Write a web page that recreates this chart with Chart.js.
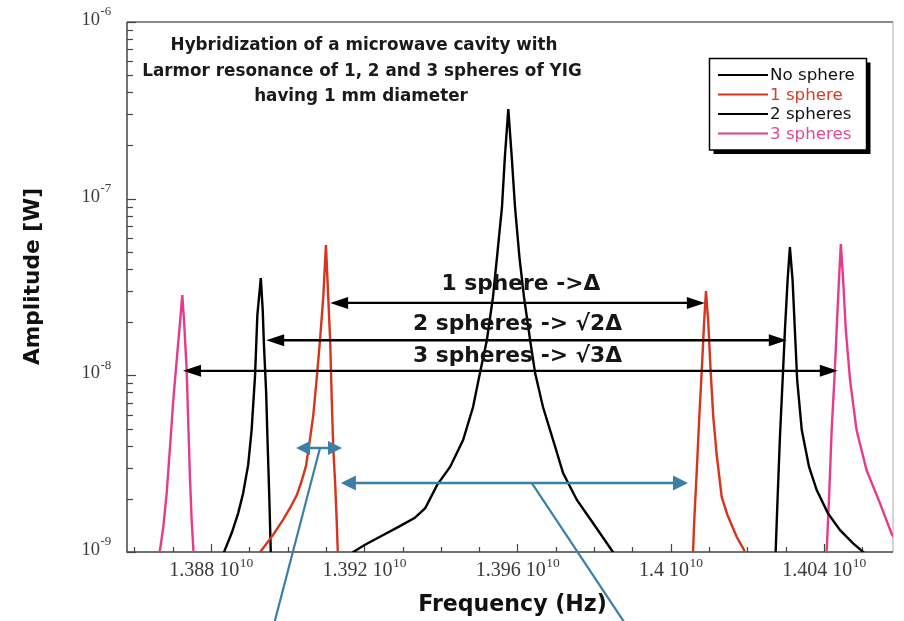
<!DOCTYPE html>
<html><head><meta charset="utf-8">
<script src="https://cdn.jsdelivr.net/npm/chart.js@4/dist/chart.umd.min.js"></script>
<style>html,body{margin:0;padding:0;background:#fff}canvas{display:block}</style>
</head><body>
<canvas id="c" width="904" height="621" style="width:904px;height:621px"></canvas>
<script>
// ---------- DATA (frequency in Hz, amplitude in W) ----------
const noSphereFreq = [13916.3e6,13917.1e6,13920.2e6,13924.1e6,13929.3e6,13933.2e6,13935.9e6,13939.0e6,13942.4e6,13945.8e6,13948.4e6,13950.2e6,13952.0e6,13953.6e6,13954.65e6,13955.95e6,13956.7e6,13957.6e6,13958.5e6,13959.35e6,13960.5e6,13961.7e6,13963.3e6,13964.6e6,13966.65e6,13969.3e6,13971.9e6,13975.5e6,13979.7e6,13984.9e6,13986.2e6];
const noSphereAmp  = [9.25e-10,1.0e-9,1.10e-9,1.22e-9,1.40e-9,1.56e-9,1.77e-9,2.39e-9,3.03e-9,4.30e-9,6.62e-9,1.03e-8,1.58e-8,2.77e-8,4.67e-8,8.97e-8,1.72e-7,3.21e-7,1.72e-7,8.97e-8,4.67e-8,2.77e-8,1.58e-8,1.03e-8,6.62e-9,4.30e-9,2.80e-9,1.97e-9,1.46e-9,1.0e-9,9.0e-10];

const oneSphereLowFreq  = [13891.5e6,13893.3e6,13896.2e6,13898.8e6,13900.6e6,13902.4e6,13903.75e6,13904.8e6,13905.8e6,13906.7e6,13907.6e6,13908.45e6,13909.3e6,13910.0e6,13910.6e6,13911.1e6,13911.5e6,13911.9e6,13912.4e6,13912.8e6,13913.1e6,13913.15e6];
const oneSphereLowAmp   = [9.25e-10,1.03e-9,1.25e-9,1.52e-9,1.77e-9,2.10e-9,2.56e-9,3.07e-9,4.30e-9,5.96e-9,9.65e-9,1.58e-8,2.77e-8,5.46e-8,2.77e-8,1.58e-8,7.54e-9,3.93e-9,2.46e-9,1.52e-9,1.0e-9,9.0e-10];
const oneSphereHighFreq = [14005.75e6,14006.1e6,14006.8e6,14007.45e6,14008.1e6,14008.7e6,14009.2e6,14009.8e6,14010.4e6,14011.1e6,14012.0e6,14013.3e6,14014.8e6,14017.2e6,14019.1e6,14019.9e6];
const oneSphereHighAmp  = [9.0e-10,1.46e-9,2.91e-9,5.81e-9,1.07e-8,1.98e-8,3.00e-8,1.98e-8,1.07e-8,5.81e-9,3.54e-9,2.05e-9,1.62e-9,1.22e-9,1.03e-9,9.25e-10];

const twoSpheresLowFreq  = [13882.9e6,13883.4e6,13885.4e6,13887.1e6,13888.4e6,13889.7e6,13890.6e6,13891.5e6,13892.1e6,13893.0e6,13893.5e6,13893.8e6,13894.4e6,13894.75e6,13895.2e6,13895.6e6,13895.7e6];
const twoSpheresLowAmp   = [9.0e-10,1.0e-9,1.28e-9,1.66e-9,2.16e-9,3.11e-9,4.90e-9,1.00e-8,2.19e-8,3.55e-8,2.34e-8,1.52e-8,7.94e-9,4.30e-9,2.10e-9,1.0e-9,9.0e-10];
const twoSpheresHighFreq = [14027.3e6,14027.9e6,14028.5e6,14029.2e6,14029.8e6,14030.5e6,14031.1e6,14031.8e6,14032.4e6,14033.0e6,14034.2e6,14036.1e6,14038.1e6,14041.0e6,14044.2e6,14047.6e6,14050.25e6,14051.5e6];
const twoSpheresHighAmp  = [9.0e-10,2.05e-9,4.48e-9,9.41e-9,1.80e-8,3.46e-8,5.32e-8,3.46e-8,1.80e-8,9.41e-9,4.90e-9,3.03e-9,2.24e-9,1.66e-9,1.33e-9,1.12e-9,1.0e-9,9.25e-10];

const threeSpheresLowFreq  = [13865.9e6,13866.7e6,13867.55e6,13868.44e6,13869.3e6,13870.16e6,13871.05e6,13871.9e6,13872.5e6,13873.0e6,13873.65e6,13874.1e6,13874.5e6,13874.95e6,13875.4e6,13875.6e6];
const threeSpheresLowAmp   = [9.2e-10,1.03e-9,1.385e-9,2.16e-9,3.93e-9,7.25e-9,1.22e-8,1.98e-8,2.85e-8,1.98e-8,1.07e-8,5.10e-9,2.66e-9,1.52e-9,1.03e-9,9.2e-10];
const threeSpheresHighFreq = [14040.6e6,14041.4e6,14042.0e6,14042.7e6,14043.3e6,14043.9e6,14044.4e6,14045.0e6,14045.7e6,14046.8e6,14048.5e6,14051.1e6,14054.6e6,14057.7e6,14059.8e6];
const threeSpheresHighAmp  = [9.0e-10,2.24e-9,4.90e-9,9.41e-9,1.80e-8,3.46e-8,5.53e-8,3.46e-8,1.80e-8,9.41e-9,4.90e-9,2.91e-9,1.89e-9,1.26e-9,1.10e-9];

const seriesLabels = ['No sphere','1 sphere','2 spheres','3 spheres'];

// axis ticks
const xMajorTicks = [1.388e10,1.392e10,1.396e10,1.400e10,1.404e10];
const xMajorMantissa = ['1.388','1.392','1.396','1.4','1.404'];
const xTickExponent = '10';
const yMajorTicks = [1e-9,1e-8,1e-7,1e-6];
const yTickExponents = ['-9','-8','-7','-6'];

// annotations (data coordinates)
const deltaArrowFrom = [13911.1e6,13894.4e6,13872.7e6];
const deltaArrowTo   = [14008.9e6,14030.3e6,14043.6e6];
const deltaArrowAmp  = [2.57e-8,1.58e-8,1.06e-8];
const deltaLabels    = ['1 sphere ->\u0394','2 spheres -> \u221A2\u0394','3 spheres -> \u221A3\u0394'];
const deltaLabelFreq = [13960.9e6,13960.0e6,13960.0e6];
const deltaLabelAmp  = [3.04e-8,1.80e-8,1.19e-8];

const titleLines = ['Hybridization of a microwave cavity with','Larmor resonance of 1, 2 and 3 spheres of YIG','having 1 mm diameter'];

// ---------- helpers ----------
function pts(f,a){return f.map((x,i)=>({x:x,y:a[i]}));}
function joined(f1,a1,f2,a2){return pts(f1,a1).concat([{x:(f1[f1.length-1]+f2[0])/2,y:null}],pts(f2,a2));}

const RED='#d6341c', PINK='#e63b8c';

const datasets = [
  {label:seriesLabels[0], data:pts(noSphereFreq,noSphereAmp), borderColor:'#000', textColor:'#111'},
  {label:seriesLabels[1], data:joined(oneSphereLowFreq,oneSphereLowAmp,oneSphereHighFreq,oneSphereHighAmp), borderColor:RED, textColor:'#d2402c'},
  {label:seriesLabels[2], data:joined(twoSpheresLowFreq,twoSpheresLowAmp,twoSpheresHighFreq,twoSpheresHighAmp), borderColor:'#000', textColor:'#111'},
  {label:seriesLabels[3], data:joined(threeSpheresLowFreq,threeSpheresLowAmp,threeSpheresHighFreq,threeSpheresHighAmp), borderColor:PINK, textColor:'#e04a92'}
].map(d=>Object.assign(d,{borderWidth:2.4,pointRadius:0,tension:0,spanGaps:false,fill:false,clip:0}));

function fit(ctx,text,weight,family,target){ctx.font=weight+' 100px '+family;return 100*target/ctx.measureText(text).width;}
function head(ctx,tx,ty,dir,len,half){ctx.beginPath();ctx.moveTo(tx,ty);ctx.lineTo(tx-dir*len,ty-half);ctx.lineTo(tx-dir*len,ty+half);ctx.closePath();ctx.fill();}
function dblArrow(ctx,x1,x2,y,len,half,lw,color){
  ctx.save();ctx.strokeStyle=color;ctx.fillStyle=color;ctx.lineWidth=lw;
  ctx.beginPath();ctx.moveTo(x1+len*0.5,y);ctx.lineTo(x2-len*0.5,y);ctx.stroke();
  head(ctx,x1,y,-1,len,half);head(ctx,x2,y,1,len,half);ctx.restore();
}

const SANS='"DejaVu Sans"', SERIF='"Liberation Serif"';

const decor = {
  id:'decor',
  beforeDraw(chart){const c=chart.ctx;c.save();c.fillStyle='#fff';c.fillRect(0,0,chart.width,chart.height);c.restore();},
  beforeDatasetsDraw(chart){
    const c=chart.ctx, a=chart.chartArea, xs=chart.scales.x, ys=chart.scales.y;
    c.save();
    // frame
    c.lineWidth=1.5;c.strokeStyle='#666';
    c.beginPath();c.moveTo(a.left,a.top);c.lineTo(a.right,a.top);c.stroke();
    c.lineWidth=1;c.strokeStyle='#aaa';
    c.beginPath();c.moveTo(a.right,a.top);c.lineTo(a.right,a.bottom);c.stroke();
    c.lineWidth=1.5;c.strokeStyle='#444';
    c.beginPath();c.moveTo(a.left,a.top);c.lineTo(a.left,a.bottom);c.lineTo(a.right,a.bottom);c.stroke();
    // y ticks
    c.lineWidth=1.2;c.strokeStyle='#444';
    for(let e=-9;e<=-6;e++){
      for(let m=1;m<=9;m++){
        const v=m*Math.pow(10,e); if(v>1.0000001e-6) break;
        const y=Math.round(ys.getPixelForValue(v))+0.5, L=(m===1)?9:6;
        c.beginPath();c.moveTo(a.left,y);c.lineTo(a.left+L,y);c.stroke();
      }
    }
    // x ticks every 1e7 Hz
    for(let k=0;k<=20;k++){
      const f=1.386e10+k*1e7; const x=xs.getPixelForValue(f);
      if(x<a.left||x>a.right) continue;
      const major=(Math.round((f-1.388e10)/1e7)%4===0);
      const xr=Math.round(x)+0.5;
      c.beginPath();c.moveTo(xr,a.bottom);c.lineTo(xr,a.bottom-(major?8:5));c.stroke();
    }
    // y tick labels
    c.fillStyle='#3a3a3a';c.textBaseline='middle';c.textAlign='left';
    yMajorTicks.forEach((v,i)=>{
      const y=ys.getPixelForValue(v);
      c.font='18.5px '+SERIF;const w=c.measureText('10').width;
      c.fillText('10',81.5,y-2);
      c.font='13px '+SERIF;c.fillText(yTickExponents[i],81.5+w+0.5,y-10);
    });
    // x tick labels
    xMajorTicks.forEach((v,i)=>{
      const x=xs.getPixelForValue(v);
      const main=xMajorMantissa[i]+' 10';
      c.font='20px '+SERIF;const w1=c.measureText(main).width;
      c.font='13.5px '+SERIF;const w2=c.measureText(xTickExponent).width;
      const x0=x-(w1+w2)/2;
      c.font='20px '+SERIF;c.fillText(main,x0,571);
      c.font='13.5px '+SERIF;c.fillText(xTickExponent,x0+w1+0.5,563);
    });
    // axis titles
    c.fillStyle='#111';c.textAlign='center';c.textBaseline='middle';
    let s=fit(c,'Frequency (Hz)','bold',SANS,189);
    c.font='bold '+s.toFixed(1)+'px '+SANS;c.fillText('Frequency (Hz)',512.5,605);
    s=fit(c,'Amplitude [W]','bold',SANS,177);
    c.save();c.translate(33,276.5);c.rotate(-Math.PI/2);
    c.font='bold '+s.toFixed(1)+'px '+SANS;c.fillText('Amplitude [W]',0,0);c.restore();
    // title
    s=fit(c,titleLines[1],'bold',SANS,441);
    c.font='bold '+s.toFixed(1)+'px '+SANS;c.textBaseline='alphabetic';c.fillStyle='#1a1a1a';
    c.fillText(titleLines[0],364,50);c.fillText(titleLines[1],362,76);c.fillText(titleLines[2],361,101);
    c.restore();
  },
  afterDatasetsDraw(chart){
    const c=chart.ctx, xs=chart.scales.x, ys=chart.scales.y;
    c.save();
    // black delta arrows and labels
    for(let i=0;i<3;i++){
      const x1=xs.getPixelForValue(deltaArrowFrom[i]), x2=xs.getPixelForValue(deltaArrowTo[i]), y=ys.getPixelForValue(deltaArrowAmp[i]);
      dblArrow(c,x1,x2,y,18,6,2.3,'#000');
    }
    const sd=fit(c,deltaLabels[1],'bold',SANS,209);
    c.font='bold '+sd.toFixed(1)+'px '+SANS;c.fillStyle='#151515';c.textAlign='center';c.textBaseline='alphabetic';
    for(let i=0;i<3;i++){
      c.fillText(deltaLabels[i],xs.getPixelForValue(deltaLabelFreq[i]),ys.getPixelForValue(deltaLabelAmp[i]));
    }
    // blue annotation arrows
    const BLUE='#3b7ea7';
    const bx=v=>xs.getPixelForValue(v), by=v=>ys.getPixelForValue(v);
    dblArrow(c,bx(13902.2e6),bx(13914.2e6),by(3.88e-9),14,7,2.5,BLUE);
    dblArrow(c,bx(13913.9e6),bx(14004.5e6),by(2.46e-9),15,7.5,2.5,BLUE);
    c.strokeStyle=BLUE;c.lineWidth=2.2;
    c.beginPath();c.moveTo(bx(13908.45e6),by(3.88e-9));c.lineTo(bx(13896.05e6),by(3.62e-10));c.stroke();
    c.beginPath();c.moveTo(bx(13963.7e6),by(2.46e-9));c.lineTo(bx(13989.2e6),by(3.62e-10));c.stroke();
    // legend
    const L={x:709.5,y:58.5,w:157,h:91.5};
    c.fillStyle='#000';c.fillRect(L.x+4,L.y+4,L.w,L.h);
    c.fillStyle='#fff';c.fillRect(L.x,L.y,L.w,L.h);
    c.strokeStyle='#000';c.lineWidth=1.5;c.strokeRect(L.x,L.y,L.w,L.h);
    const sl=fit(c,'No sphere','normal',SANS,85);
    c.font=sl.toFixed(1)+'px '+SANS;c.textAlign='left';c.textBaseline='middle';
    chart.data.datasets.forEach((d,i)=>{
      const y=75+i*19.5;
      c.strokeStyle=d.borderColor;c.lineWidth=2;
      c.beginPath();c.moveTo(718,y);c.lineTo(768,y);c.stroke();
      c.fillStyle=d.textColor;c.fillText(d.label,770,y+1);
    });
    c.restore();
  }
};

new Chart(document.getElementById('c'),{
  type:'line',
  data:{datasets:datasets},
  options:{
    responsive:false,animation:false,devicePixelRatio:1,
    layout:{padding:{left:127,right:11,top:22,bottom:69}},
    plugins:{legend:{display:false},tooltip:{enabled:false},title:{display:false}},
    scales:{
      x:{type:'linear',display:false,min:13858.075e6,max:14058.01e6},
      y:{type:'logarithmic',display:false,min:1e-9,max:1e-6}
    }
  },
  plugins:[decor]
});
</script>
</body></html>
